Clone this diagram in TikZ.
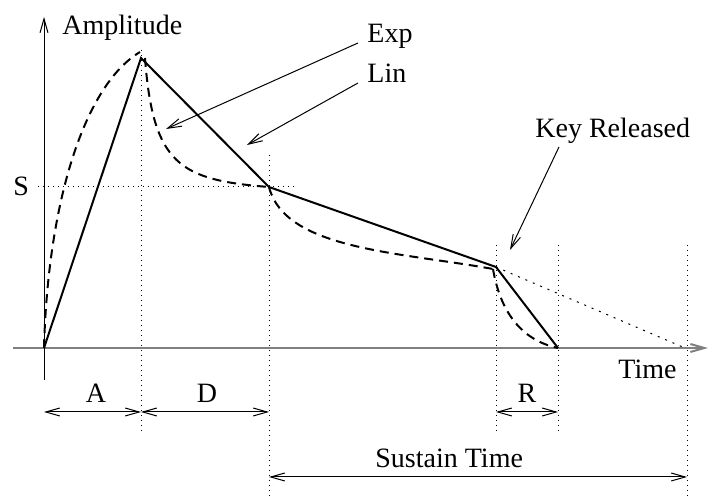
\documentclass[tikz,border=0pt]{standalone}
\usepackage{fontspec}
\setmainfont{Liberation Serif}
\usetikzlibrary{arrows.meta}

\begin{document}
\begin{tikzpicture}[
    x=0.5pt, y=-0.5pt,
    lbl/.style={anchor=base west, inner sep=0pt, font=\fontsize{14}{17}\selectfont},
    clbl/.style={anchor=base, inner sep=0pt, font=\fontsize{14}{17}\selectfont},
    curve/.style={line width=1pt},
    expcurve/.style={line width=1pt, dash pattern=on 4.5pt off 3pt},
    guide/.style={line width=0.5pt, dotted},
    tip/.style={line width=0.5pt, -{Straight Barb[length=7pt,width=4pt]}},
    span/.style={line width=0.5pt, {Straight Barb[length=7pt,width=4pt]}-{Straight Barb[length=7pt,width=4pt]}}
]
\useasboundingbox (0,0) rectangle (709,502);

% Envelope points
\coordinate (origin) at (44,348);
\coordinate (peak) at (141,58);
\coordinate (sus) at (269,187);
\coordinate (rel) at (496,267);
\coordinate (stop) at (558,348);
\coordinate (fade) at (685,348);

% Axes
\draw[tip, gray, line width=1pt] (13,348) coordinate (xl) -- (708,348) coordinate (xr);
\draw[tip] (44,380) coordinate (yb) -- (44,17) coordinate (yt);

% Guide lines
\draw[guide] (141,50) coordinate (g1t) -- (141,432) coordinate (g1b);
\draw[guide] (269,155) coordinate (g2t) -- (269,497) coordinate (g2b);
\draw[guide] (496,245) coordinate (g3t) -- (496,432) coordinate (g3b);
\draw[guide] (558,245) coordinate (g4t) -- (558,432) coordinate (g4b);
\draw[guide] (687,245) coordinate (g5t) -- (687,497) coordinate (g5b);
\draw[guide] (38,187) coordinate (sl) -- (297,187) coordinate (sr);
\draw[guide, dash pattern=on 1pt off 3pt] (rel) -- (fade);

% Linear envelope
\draw[curve] (origin) -- (peak) -- (sus) -- (rel) -- (stop);

% Exponential envelope
\draw[expcurve] (origin) .. controls (48,200) and (85,85) .. (140,52);
\draw[expcurve] (145,58) .. controls (153,165) and (180,180) .. (sus);
\draw[expcurve] (sus) .. controls (285,250) and (400,252) .. (493,269);
\draw[expcurve] (493,269) .. controls (500,310) and (520,340) .. (stop);

% Labels
\node[lbl] (amp) at (62,35) {Amplitude};
\node[lbl] (slev) at (13,196) {S};
\node[lbl] (exp) at (367,43) {Exp};
\node[lbl] (lin) at (367,83) {Lin};
\node[lbl] (key) at (535,138) {Key Released};
\node[lbl] (time) at (618,379) {Time};

% Pointers
\coordinate (expfrom) at (358,43);
\coordinate (expto) at (166,129);
\coordinate (linfrom) at (358,83);
\coordinate (linto) at (247,145);
\coordinate (keyfrom) at (559,147);
\coordinate (keyto) at (510,250);
\draw[tip] (expfrom) -- (expto);
\draw[tip] (linfrom) -- (linto);
\draw[tip] (keyfrom) -- (keyto);

% Phase spans
\draw[span] (44,412) coordinate (a1) -- (141,412) coordinate (a2);
\draw[span] (a2) -- (269,412) coordinate (d2);
\draw[span] (496,412) coordinate (r1) -- (558,412) coordinate (r2);
\draw[span] (269,477) coordinate (s1) -- (687,477) coordinate (s2);
\node[clbl] (alab) at (96,403) {A};
\node[clbl] (dlab) at (207,403) {D};
\node[clbl] (rlab) at (527,403) {R};
\node[lbl] (stlab) at (375,468) {Sustain Time};

\end{tikzpicture}
\end{document}
